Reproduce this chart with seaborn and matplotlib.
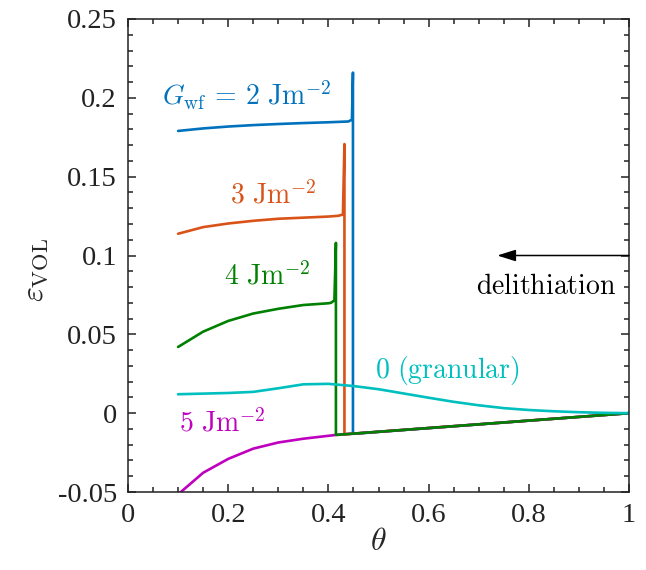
import numpy as np
import pandas as pd
import matplotlib
matplotlib.use("Agg")
import matplotlib.pyplot as plt
from matplotlib.ticker import MultipleLocator, FuncFormatter
import seaborn as sns

# delithiation curves, listed from theta = 1 down to theta = 0.1
theta_2 = [1.0, 0.449, 0.449, 0.447, 0.44, 0.4, 0.35, 0.3, 0.25, 0.2, 0.15, 0.1]
eps_2 = [0.0, -0.0131, 0.216, 0.1862, 0.1850, 0.1845, 0.1840, 0.1834, 0.1827, 0.1818, 0.1806, 0.1790]

theta_3 = [1.0, 0.432, 0.432, 0.429, 0.42, 0.4, 0.35, 0.3, 0.25, 0.2, 0.15, 0.1]
eps_3 = [0.0, -0.0134, 0.1707, 0.1260, 0.1252, 0.1247, 0.1240, 0.1233, 0.1220, 0.1203, 0.1180, 0.1138]

theta_4 = [1.0, 0.415, 0.415, 0.412, 0.405, 0.4, 0.35, 0.3, 0.25, 0.2, 0.15, 0.1]
eps_4 = [0.0, -0.0138, 0.108, 0.0715, 0.0700, 0.0697, 0.0686, 0.0662, 0.0632, 0.0585, 0.0517, 0.042]

theta_5 = [1.0, 0.415, 0.35, 0.3, 0.25, 0.2, 0.15, 0.1]
eps_5 = [0.0, -0.0138, -0.0162, -0.0186, -0.0225, -0.0290, -0.0378, -0.0515]

theta_0 = [1.0, 0.95, 0.9, 0.85, 0.8, 0.75, 0.7, 0.65, 0.6, 0.55, 0.5, 0.45,
           0.4, 0.35, 0.3, 0.25, 0.2, 0.15, 0.1]
eps_0 = [0.0, 0.0002, 0.0006, 0.0012, 0.0020, 0.0032, 0.0050, 0.0072, 0.0098,
         0.0125, 0.0152, 0.0172, 0.0186, 0.0183, 0.0158, 0.0135, 0.0128, 0.0124, 0.0120]

series = {"2": (theta_2, eps_2), "3": (theta_3, eps_3), "5": (theta_5, eps_5),
          "4": (theta_4, eps_4), "0": (theta_0, eps_0)}
colors = {"2": "#0072BD", "3": "#D95319", "4": "#008000", "5": "#BF00BF", "0": "#00BFBF"}

df = pd.concat([pd.DataFrame({"theta": t, "eps": e, "G": k}) for k, (t, e) in series.items()],
               ignore_index=True)

sns.set_style("ticks")
plt.rcParams["font.family"] = ["Liberation Serif", "DejaVu Serif"]
plt.rcParams["mathtext.fontset"] = "cm"
plt.rcParams["axes.unicode_minus"] = False

fig = plt.figure(figsize=(6.46, 5.70), dpi=100)
ax = fig.add_axes([128 / 646, 1 - 492 / 570, 501 / 646, 473 / 570])

sns.lineplot(data=df, x="theta", y="eps", hue="G", hue_order=list(series.keys()),
             palette=colors, sort=False, estimator=None, lw=1.9, legend=False, ax=ax)

ax.set_xlim(0, 1)
ax.set_ylim(-0.05, 0.25)
ax.xaxis.set_major_locator(MultipleLocator(0.2))
ax.xaxis.set_minor_locator(MultipleLocator(0.05))
ax.yaxis.set_major_locator(MultipleLocator(0.05))
ax.yaxis.set_minor_locator(MultipleLocator(0.01))
fmt = FuncFormatter(lambda v, p: f"{round(v, 3):g}")
ax.xaxis.set_major_formatter(fmt)
ax.yaxis.set_major_formatter(fmt)
ax.tick_params(which="both", direction="in", top=True, right=True, width=1.1,
               labelsize=20.5, colors="#222222")
ax.tick_params(which="major", length=6, pad=8)
ax.tick_params(which="minor", length=3.5)
for s in ax.spines.values():
    s.set_linewidth(1.1)
    s.set_color("#222222")

ax.set_xlabel(r"$\theta$", fontsize=23, labelpad=0)
ax.set_ylabel(r"$\varepsilon_{\mathrm{VOL}}$", fontsize=23)
ax.yaxis.set_label_coords(-0.155, 0.47)

tfs = 20
ax.text(0.067, 0.1955, r"$G_{\mathrm{wf}}\,=\,2\ \mathrm{Jm}^{-2}$", color=colors["2"], fontsize=tfs, va="baseline")
ax.text(0.204, 0.1327, r"$3\ \mathrm{Jm}^{-2}$", color=colors["3"], fontsize=tfs, va="baseline")
ax.text(0.192, 0.0813, r"$4\ \mathrm{Jm}^{-2}$", color=colors["4"], fontsize=tfs, va="baseline")
ax.text(0.102, -0.0118, r"$5\ \mathrm{Jm}^{-2}$", color=colors["5"], fontsize=tfs, va="baseline")
ax.text(0.493, 0.0225, r"$0\ (\mathrm{granular})$", color=colors["0"], fontsize=tfs, va="baseline")
ax.text(0.974, 0.0756, r"$\mathrm{delithiation}$", color="k", fontsize=tfs, va="baseline", ha="right")
ax.annotate("", xy=(0.737, 0.1), xytext=(1.0, 0.1),
            arrowprops=dict(arrowstyle="-|>,head_length=0.7,head_width=0.22", color="k",
                            lw=1.1, mutation_scale=16, shrinkA=0, shrinkB=0))

fig.savefig("out.png", dpi=100)
